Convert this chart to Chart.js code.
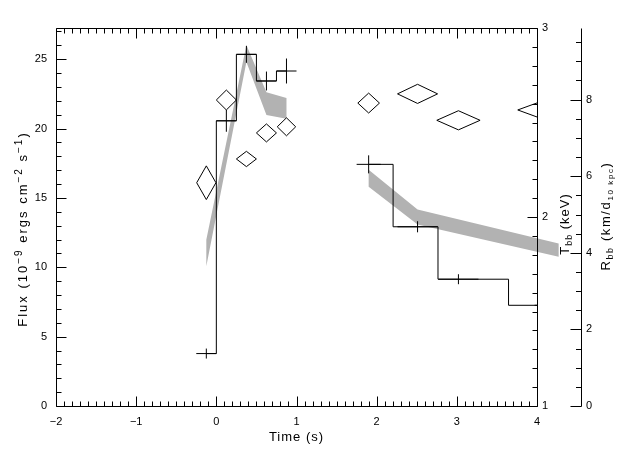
<!DOCTYPE html>
<html>
<head>
<meta charset="utf-8">
<script src="https://cdn.jsdelivr.net/npm/chart.js@4.4.1/dist/chart.umd.min.js"></script>
<style>
  html, body { margin: 0; padding: 0; background: #fff; }
  canvas { display: block; }
</style>
</head>
<body>
<canvas id="burstChart" width="640" height="457"></canvas>
<script>
// flux histogram (crosses + steps), two segments
const fluxTime1 = [-0.125, 0.125, 0.375, 0.625, 0.875];
const fluxVal1 = [3.78, 20.56, 25.35, 23.43, 24.15];
const fluxErr1 = [0.36, 0.79, 0.61, 0.68, 0.9];
const fluxHalfBin1 = [0.125, 0.125, 0.125, 0.125, 0.125];

const fluxTime2 = [1.90, 2.51, 3.02, 4.27];
const fluxVal2 = [17.42, 12.92, 9.14, 7.26];
const fluxErr2 = [0.65, 0.4, 0.36, 0.3];
const fluxHalfBin2 = [0.15, 0.25, 0.25, 0.3];

// blackbody radius, drawn as error diamonds (right outer axis)
const radTime = [-0.125, 0.125, 0.375, 0.625, 0.875, 1.90, 2.51, 3.02, 4.27];
const radVal = [5.83, 7.99, 6.45, 7.13, 7.29, 7.91, 8.15, 7.46, 7.73];
const radErr = [0.44, 0.26, 0.2, 0.235, 0.235, 0.26, 0.25, 0.25, 0.39];
const radHalfBin = [0.12, 0.125, 0.125, 0.125, 0.115, 0.135, 0.25, 0.27, 0.51];

// blackbody temperature band (keV), upper / lower bound
const tempTime1 = [-0.125, 0.375, 0.625, 0.875];
const tempHi1 = [1.88, 2.91, 2.66, 2.63];
const tempLo1 = [1.74, 2.82, 2.54, 2.52];
const tempTime2 = [1.90, 2.51, 4.27];
const tempHi2 = [2.25, 2.04, 1.86];
const tempLo2 = [2.16, 1.96, 1.79];

// axis tick labels
const timeTicks = [-2, -1, 0, 1, 2, 3, 4];
const fluxTicks = [0, 5, 10, 15, 20, 25];
const tempTicks = [1, 2, 3];
const radTicks = [0, 2, 4, 6, 8];

const FONT = "'Liberation Sans', 'DejaVu Sans', sans-serif";
Chart.defaults.font.family = FONT;
Chart.defaults.font.size = 11;
Chart.defaults.color = '#000';

const pts = (xs, ys) => xs.map((x, i) => ({x, y: ys[i]}));

function crossPoints(ts, vs, xe, ye) {
    const out = [];
    ts.forEach((t, i) => {
        out.push({x: t - xe[i], y: vs[i]}, {x: t + xe[i], y: vs[i]}, {x: t, y: null});
        out.push({x: t, y: vs[i] - ye[i]}, {x: t, y: vs[i] + ye[i]}, {x: t, y: null});
    });
    return out;
}

function diamondPoints(ts, vs, hw, he) {
    const out = [];
    ts.forEach((t, i) => {
        out.push({x: t - hw[i], y: vs[i]}, {x: t, y: vs[i] + he[i]}, {x: t + hw[i], y: vs[i]},
                 {x: t, y: vs[i] - he[i]}, {x: t - hw[i], y: vs[i]}, {x: t, y: null});
    });
    return out;
}

const lineStyle = { borderColor: '#000', borderWidth: 1, pointRadius: 0, fill: false, tension: 0, spanGaps: false };

function richText(ctx, parts, x, y, angle, spacing) {
    ctx.save();
    ctx.translate(x, y);
    ctx.rotate(angle);
    ctx.fillStyle = '#000';
    ctx.textBaseline = 'alphabetic';
    ctx.letterSpacing = spacing + 'px';
    let total = 0;
    const widths = parts.map(p => {
        ctx.font = p[1] + 'px ' + FONT;
        const w = ctx.measureText(p[0]).width;
        total += w;
        return w;
    });
    let cx = -total / 2;
    parts.forEach((p, i) => {
        ctx.font = p[1] + 'px ' + FONT;
        ctx.fillText(p[0], cx, p[2] || 0);
        cx += widths[i];
    });
    ctx.restore();
}

// grey temperature band; not clipped on the right, like the original plot
const tempBand = {
    id: 'tempBand',
    beforeDatasetsDraw(chart) {
        const {ctx, chartArea: a, scales: {x, yT}} = chart;
        ctx.save();
        ctx.beginPath();
        ctx.rect(0, a.top, chart.width, a.bottom - a.top);
        ctx.clip();
        ctx.fillStyle = '#b2b2b2';
        [[tempTime1, tempHi1, tempLo1], [tempTime2, tempHi2, tempLo2]].forEach(([ts, hi, lo]) => {
            ctx.beginPath();
            ts.forEach((t, i) => ctx.lineTo(x.getPixelForValue(t), yT.getPixelForValue(hi[i])));
            for (let i = ts.length - 1; i >= 0; i--) {
                ctx.lineTo(x.getPixelForValue(ts[i]), yT.getPixelForValue(lo[i]));
            }
            ctx.closePath();
            ctx.fill();
        });
        ctx.restore();
    }
};

// IDL style frame: inward ticks, extra radius axis, titles with sub/superscripts
const frame = {
    id: 'frame',
    afterDraw(chart) {
        const {ctx, chartArea: a, scales} = chart;
        const r = v => Math.round(v) + 0.5;
        const L = r(a.left), R = r(a.right), T = r(a.top), B = r(a.bottom);
        ctx.save();
        ctx.strokeStyle = '#000';
        ctx.lineWidth = 1;
        ctx.beginPath();
        ctx.rect(L, T, R - L, B - T);
        for (let i = -20; i <= 40; i++) {
            const px = r(scales.x.getPixelForValue(i / 10));
            const len = i % 10 === 0 ? 10 : 5;
            ctx.moveTo(px, B); ctx.lineTo(px, B - len);
            ctx.moveTo(px, T); ctx.lineTo(px, T + len);
        }
        for (let i = 0; i <= 27; i++) {
            const py = r(scales.y.getPixelForValue(i));
            ctx.moveTo(L, py); ctx.lineTo(L + (i % 5 === 0 ? 10 : 5), py);
        }
        for (let i = 10; i <= 30; i++) {
            const py = r(scales.yT.getPixelForValue(i / 10));
            ctx.moveTo(R, py); ctx.lineTo(R - (i % 10 === 0 ? 10 : 5), py);
        }
        const rx = r(scales.yR.left);
        ctx.moveTo(rx, T); ctx.lineTo(rx, B);
        for (let i = 0; i <= 19; i++) {
            const py = r(scales.yR.getPixelForValue(i / 2));
            ctx.moveTo(rx, py); ctx.lineTo(rx - (i % 4 === 0 ? 11 : 5.5), py);
        }
        ctx.stroke();
        ctx.restore();

        richText(ctx, [['Time (s)', 13]], (a.left + a.right) / 2, 441, 0, 1);
        richText(ctx, [['Flux (10', 13], ['\u22129', 10, -5], [' ergs cm', 13], ['\u22122', 10, -5],
                       [' s', 13], ['\u22121', 10, -5], [')', 13]], 27, 229, -Math.PI / 2, 2);
        richText(ctx, [['T', 13], ['bb', 9, 3], [' (keV)', 13]], 569, 224, -Math.PI / 2, 1);
        richText(ctx, [['R', 13], ['bb', 9, 3], [' (km/d', 13], ['10 kpc', 8, 3], [')', 13]], 610, 216, -Math.PI / 2, 1.6);
    }
};

new Chart(document.getElementById('burstChart'), {
    type: 'line',
    data: {
        datasets: [
            { ...lineStyle, data: pts(fluxTime1, fluxVal1), stepped: 'middle', yAxisID: 'y' },
            { ...lineStyle, data: pts(fluxTime2, fluxVal2), stepped: 'middle', yAxisID: 'y' },
            { ...lineStyle, data: crossPoints(fluxTime1, fluxVal1, fluxHalfBin1, fluxErr1), yAxisID: 'y' },
            { ...lineStyle, data: crossPoints(fluxTime2, fluxVal2, fluxHalfBin2, fluxErr2), yAxisID: 'y' },
            { ...lineStyle, data: diamondPoints(radTime, radVal, radHalfBin, radErr), yAxisID: 'yR' }
        ]
    },
    options: {
        responsive: false,
        animation: false,
        layout: { padding: { top: 28, left: 0, right: 0, bottom: 0 } },
        plugins: { legend: { display: false }, tooltip: { enabled: false } },
        scales: {
            x: {
                type: 'linear', position: 'bottom', min: -2, max: 4,
                afterBuildTicks: s => { s.ticks = timeTicks.map(value => ({value})); },
                afterFit: s => { s.height = 51; },
                grid: { display: false, drawTicks: false },
                border: { display: false },
                ticks: { padding: 9, autoSkip: false, maxRotation: 0,
                         callback: v => v < 0 ? '\u2212' + Math.abs(v) : String(v) }
            },
            y: {
                type: 'linear', position: 'left', min: 0, max: 27.25,
                afterBuildTicks: s => { s.ticks = fluxTicks.map(value => ({value})); },
                afterFit: s => { s.width = 56; },
                grid: { display: false, drawTicks: false },
                border: { display: false },
                ticks: { padding: 9, autoSkip: false }
            },
            yT: {
                type: 'linear', position: 'right', min: 1, max: 3, weight: 0,
                afterBuildTicks: s => { s.ticks = tempTicks.map(value => ({value})); },
                afterFit: s => { s.width = 44; },
                grid: { display: false, drawTicks: false },
                border: { display: false },
                ticks: { padding: 5, autoSkip: false }
            },
            yR: {
                type: 'linear', position: 'right', min: 0, max: 9.87, weight: 1,
                afterBuildTicks: s => { s.ticks = radTicks.map(value => ({value})); },
                afterFit: s => { s.width = 59; },
                grid: { display: false, drawTicks: false },
                border: { display: false },
                ticks: { padding: 5, autoSkip: false }
            }
        }
    },
    plugins: [tempBand, frame]
});
</script>
</body>
</html>
